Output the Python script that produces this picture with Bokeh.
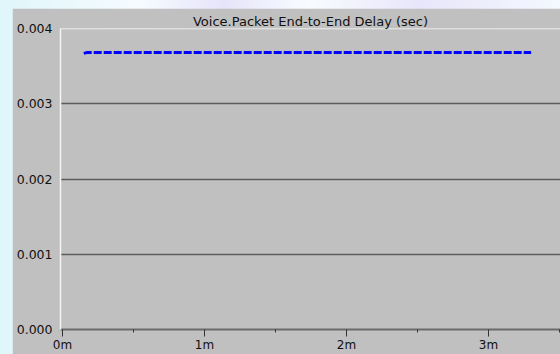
from bokeh.plotting import figure
from bokeh.models import FixedTicker, PrintfTickFormatter, Span, Range1d
from bokeh.layouts import column
from bokeh.embed import file_html
from bokeh.resources import INLINE

# Voice packet end-to-end delay samples (time in minutes, delay in seconds)
time_min = [0.15, 0.17, 0.50, 1.00, 1.50, 2.00, 2.50, 3.00, 3.30]
delay_sec = [0.00367, 0.00368, 0.00368, 0.00368, 0.00368, 0.00368, 0.00368, 0.00368, 0.00368]

x_ticks = [0, 1, 2, 3]
x_minor = [0.5, 1.5, 2.5, 3.5]
x_labels = {0: "0m", 1: "1m", 2: "2m", 3: "3m"}
y_ticks = [0.000, 0.001, 0.002, 0.003, 0.004]

FONT = "DejaVu Sans"
PANEL = "#c0c0c0"

p = figure(width=548, height=346, output_backend="svg", toolbar_location=None,
           x_range=Range1d(-0.014, 3.507), y_range=Range1d(0.0, 0.004),
           min_border_left=48, min_border_right=0, min_border_top=20, min_border_bottom=24,
           background_fill_color=PANEL, border_fill_color=PANEL)
p.margin = (8, 0, 0, 12)
p.outline_line_color = None

p.title.text = "Voice.Packet End-to-End Delay (sec)"
p.title.align = "center"
p.title.text_font = FONT
p.title.text_font_size = "13px"
p.title.text_font_style = "normal"
p.title.text_color = "#111111"
p.title.standoff = 0

# x axis
xa = p.xaxis[0]
xa.ticker = FixedTicker(ticks=x_ticks, minor_ticks=x_minor)
xa.major_label_overrides = x_labels
xa.axis_line_color = "#6a6a6a"
xa.axis_line_width = 2
xa.major_tick_in = 0
xa.major_tick_out = 7
xa.minor_tick_in = 0
xa.minor_tick_out = 3
xa.major_tick_line_color = "#333333"
xa.minor_tick_line_color = "#333333"
xa.major_label_standoff = 1
xa.major_label_text_font = FONT
xa.major_label_text_font_size = "12px"
xa.major_label_text_color = "#111111"

# y axis
ya = p.yaxis[0]
ya.ticker = FixedTicker(ticks=y_ticks)
ya.formatter = PrintfTickFormatter(format="%.3f")
ya.axis_line_color = "#f4f4f4"
ya.axis_line_width = 1.5
ya.major_tick_in = 0
ya.major_tick_out = 0
ya.minor_tick_line_color = None
ya.major_label_standoff = 8
ya.major_label_text_font = FONT
ya.major_label_text_font_size = "12.5px"
ya.major_label_text_color = "#111111"

p.xgrid.grid_line_color = None
p.ygrid.grid_line_color = "#5c5c5c"
p.ygrid.grid_line_width = 1.5

# white top edge of the plotting area
p.add_layout(Span(location=0.004, dimension="width", line_color="#f4f4f4", line_width=1.5))

p.line(time_min, delay_sec, line_color="#0000ff", line_width=3,
       line_dash="8 2", line_cap="butt")

page = column(p, width=560, height=354,
              styles={"overflow": "hidden",
                      "background": "linear-gradient(90deg, #dff6fa 0%, #f6fbff 25%, #e6e4fa 40%, #f8fcff 55%, #e8e6fa 75%, #f4f8ff 100%)"})

open("out.html", "w").write(file_html(page, INLINE))
